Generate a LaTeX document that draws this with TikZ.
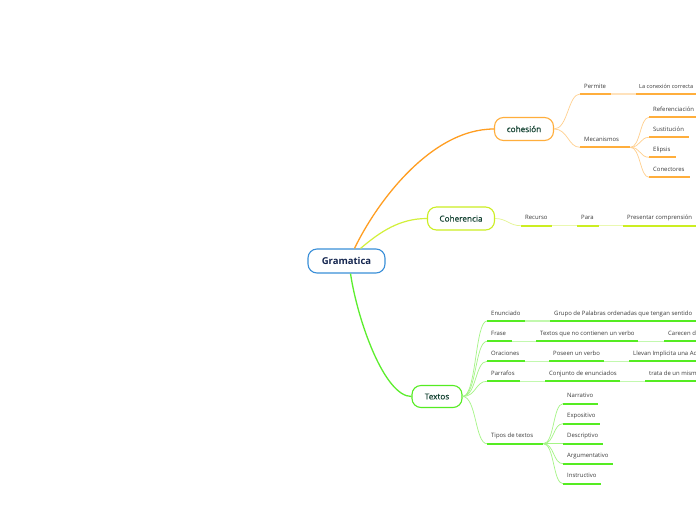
\documentclass[tikz,border=0pt]{standalone}
\usepackage{fontspec}
\setmainfont{Open Sans}
\newfontfamily\topicfont[FakeBold=0.5]{Open Sans}
\definecolor{gramborder}{HTML}{3A8FD8}
\definecolor{gramtext}{HTML}{15264F}
\definecolor{topictext}{HTML}{174535}
\definecolor{lbltext}{HTML}{3A3A3A}
\definecolor{orA}{HTML}{FF9E22}
\definecolor{orB}{HTML}{FFAE3C}
\definecolor{orC}{HTML}{FFD08F}
\definecolor{orD}{HTML}{FFE2BC}
\definecolor{liA}{HTML}{D2F03A}
\definecolor{liB}{HTML}{CCEE22}
\definecolor{liC}{HTML}{E4F590}
\definecolor{liD}{HTML}{EAF8B0}
\definecolor{grA}{HTML}{5CEE2E}
\definecolor{grB}{HTML}{55EC22}
\definecolor{grC}{HTML}{A4F585}
\definecolor{grD}{HTML}{C2F8AE}
\tikzset{
  topic/.style={draw, rounded corners=9pt, line width=1.1pt, fill=white,
    minimum height=23pt, inner sep=0pt, text=topictext,
    font=\topicfont\fontsize{8.2}{9}\selectfont},
  ulnode/.style={anchor=west, inner sep=0pt, minimum height=0pt, text height=0pt, text depth=0pt},
  lbl/.style={anchor=base west, inner sep=0pt, text=lbltext, font=\fontsize{5.95}{6.5}\selectfont},
  ulor/.style={line width=1.7pt, orB},
  ulli/.style={line width=1.7pt, liB},
  ulgr/.style={line width=1.7pt, grB},
  cnor/.style={line width=0.7pt, orC},
  cnli/.style={line width=0.7pt, liC},
  cngr/.style={line width=0.7pt, grC},
  lkor/.style={line width=1.1pt, orD},
  lkli/.style={line width=1.1pt, liD},
  lkgr/.style={line width=1.1pt, grD},
}
% name, x, y(underline), width, text, underline style
\newcommand\mmitem[6]{%
  \node[ulnode, minimum width=#4pt] (#1) at (#2,#3) {};
  \node[lbl] (#1t) at ([xshift=4pt,yshift=6pt]#1.west) {#5};
  \draw[#6] (#1.west) -- (#1.east);
}
\begin{document}
\begin{tikzpicture}[x=1pt,y=-1pt]
\useasboundingbox (0,0) rectangle (696,520);
\clip (0,0) rectangle (696,520);
\fill[white] (0,0) rectangle (696,520);

% central and main topics
\node[topic, draw=gramborder, text=gramtext, minimum width=77pt, minimum height=24pt,
  font=\bfseries\fontsize{9.5}{10}\selectfont] (gram) at (346.5,261) {Gramatica};
\node[topic, draw=orB, minimum width=59pt] (coh) at (524,129) {cohesión};
\node[topic, draw=liB, minimum width=67pt] (cohe) at (461,218.5) {Coherencia};
\node[topic, draw=grB, minimum width=50pt, minimum height=22pt] (tex) at (437,396.5) {Textos};

% main connectors
\draw[orA, line width=1.3pt] ([xshift=8pt]gram.north) .. controls +(21,-44) and +(-64,0) .. (coh.west);
\draw[liA, line width=1.2pt] ([xshift=14pt]gram.north) .. controls +(20,-17) and +(-27,0) .. (cohe.west);
\draw[grA, line width=1.3pt] ([xshift=4pt]gram.south) .. controls +(7,47) and +(-27,0) .. (tex.west);

% cohesion branch
\mmitem{perm}{580}{94}{31}{Permite}{ulor}
\node[ulnode, minimum width=70pt] (conex) at (636,94) {};
\node[lbl, font=\fontsize{5.6}{6}\selectfont] (conext) at ([xshift=3pt,yshift=6pt]conex.west) {La conexión correcta};
\draw[ulor] (conex.west) -- (conex.east);
\mmitem{mec}{580}{147.3}{50}{Mecanismos}{ulor}
\mmitem{ref}{649}{117.3}{47}{Referenciación}{ulor}
\mmitem{sus}{649}{137.3}{40}{Sustitución}{ulor}
\mmitem{eli}{649}{157.3}{27}{Elipsis}{ulor}
\mmitem{con}{649}{177.3}{41}{Conectores}{ulor}
\draw[cnor] (coh.east) .. controls +(14,0) and +(-12,0) .. (perm.west);
\draw[cnor] (coh.east) .. controls +(14,0) and +(-12,0) .. (mec.west);
\draw[lkor] (perm.east) -- (conex.west);
\foreach \c in {ref,sus,eli,con}
  \draw[cnor] (mec.east) .. controls +(10,0) and +(-9,0) .. (\c.west);

% coherencia branch
\mmitem{rec}{521}{225.7}{31}{Recurso}{ulli}
\mmitem{para}{577}{225.7}{22}{Para}{ulli}
\mmitem{pres}{623}{225.7}{80}{Presentar comprensión}{ulli}
\draw[cnli] (cohe.east) .. controls +(12,0) and +(-12,0) .. (rec.west);
\draw[lkli] (rec.east) -- (para.west);
\draw[lkli] (para.east) -- (pres.west);

% textos branch
\mmitem{enun}{487}{321}{38}{Enunciado}{ulgr}
\mmitem{grupo}{550}{321}{150}{Grupo de Palabras ordenadas que tengan sentido}{ulgr}
\mmitem{frase}{487}{341.3}{25}{Frase}{ulgr}
\mmitem{tqn}{536}{341.3}{102}{Textos que no contienen un verbo}{ulgr}
\mmitem{care}{664}{341.3}{40}{Carecen d}{ulgr}
\mmitem{orac}{487}{361.3}{38}{Oraciones}{ulgr}
\mmitem{pos}{549}{361.3}{55}{Poseen un verbo}{ulgr}
\mmitem{llev}{629}{361.3}{75}{Llevan Implicita una Ac}{ulgr}
\mmitem{parr}{487}{381.3}{33}{Parrafos}{ulgr}
\mmitem{conj}{545}{381.3}{75}{Conjunto de enunciados}{ulgr}
\mmitem{trat}{645}{381.3}{60}{trata de un mism}{ulgr}
\mmitem{tipos}{487}{443.7}{56}{Tipos de textos}{ulgr}
\mmitem{narr}{563}{403.7}{35}{Narrativo}{ulgr}
\mmitem{expo}{563}{423.7}{37}{Expositivo}{ulgr}
\mmitem{desc}{563}{443.7}{40}{Descriptivo}{ulgr}
\mmitem{argu}{563}{463.7}{50}{Argumentativo}{ulgr}
\mmitem{inst}{563}{483.7}{38}{Instructivo}{ulgr}
\foreach \c in {enun,frase,orac,parr,tipos}
  \draw[cngr] (tex.east) .. controls +(14,0) and +(-12,0) .. (\c.west);
\foreach \a/\b in {enun/grupo,frase/tqn,tqn/care,orac/pos,pos/llev,parr/conj,conj/trat}
  \draw[lkgr] (\a.east) -- (\b.west);
\foreach \c in {narr,expo,desc,argu,inst}
  \draw[cngr] (tipos.east) .. controls +(11,0) and +(-10,0) .. (\c.west);
\end{tikzpicture}
\end{document}
